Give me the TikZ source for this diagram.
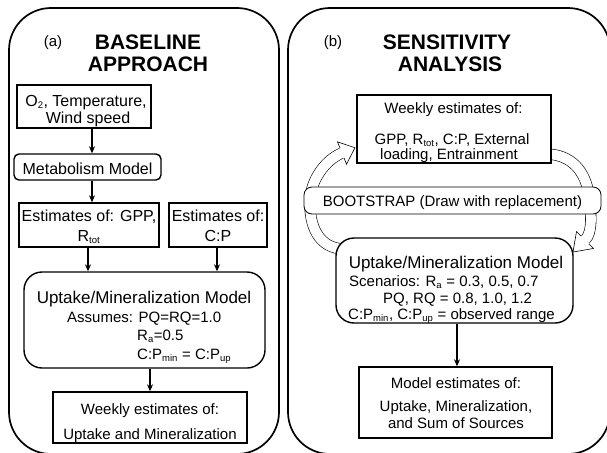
\documentclass[tikz,border=0pt]{standalone}
\usepackage{fontspec}
\setmainfont{Liberation Sans}
\usetikzlibrary{arrows.meta,calc}

\newcommand\fsz[1]{\fontsize{#1}{#1}\selectfont}
% small lowered index, as in R_tot or C:P_min
\newcommand\ix[1]{\textsubscript{\fsz{9.5}#1}}

\tikzset{
  panel/.style={draw, line width=1.7pt, rounded corners=42pt},
  sq/.style={draw, line width=1.4pt, fill=white, inner sep=0pt},
  rbox/.style={sq, rounded corners=#1},
  arr/.style={line width=1.3pt, -{Stealth[length=7pt,width=6pt]}},
  shaft/.style={draw=black, line width=0.6pt, double=white, double distance=10pt},
  txt/.style={inner sep=0pt, anchor=base, font=\fsz{15}},
  txtl/.style={txt, anchor=base west},
  big/.style={txt, font=\fsz{16}},
  mid/.style={txt, font=\fsz{17}},
  ttl/.style={inner sep=0pt, anchor=base, font=\fsz{21}\bfseries},
}

% open-backed block arrow head, placed at the end of a shaft
\newcommand\blockhead[3]{%
  \begin{scope}[shift={(#1)}, rotate=#2]
    \fill[white] (-0.5,5.3) -- (0,12) -- (#3,0) -- (0,-12) -- (-0.5,-5.3) -- cycle;
    \draw[line width=0.6pt] (0,5.3) -- (0,12) -- (#3,0) -- (0,-12) -- (0,-5.3);
  \end{scope}}

\begin{document}
\begin{tikzpicture}[x=1pt, y=-1pt]
\useasboundingbox (0,0) rectangle (607,452);

% outer panels
\begin{scope}
  \clip (0,0) rectangle (607,452);
  \draw[panel] (9,8) rectangle (279,454);
  \draw[panel] (288,8) rectangle (610,454);
\end{scope}

% ---------- (a) baseline approach ----------
\node[txt] (labA) at (53,46) {(a)};
\node[ttl] (ttlA1) at (148,50) {BASELINE};
\node[ttl] (ttlA2) at (148,71.5) {APPROACH};

\node[sq, minimum width=134, minimum height=43] (o2) at (84,106.5) {};
\node[big] (o2a) at (86,106) {O\ix{2}, Temperature,};
\node[big] (o2b) at (88,123) {Wind speed};

\node[rbox=5pt, minimum width=147, minimum height=26] (metab) at (87.5,167) {};
\node[big] (metabt) at (87.5,174) {Metabolism Model};

\node[sq, minimum width=140, minimum height=44] (gpp) at (89,225) {};
\node[big] (gppa) at (89,221) {Estimates of: GPP,};
\node[big] (gppb) at (89,241) {R\ix{tot}};

\node[sq, minimum width=98, minimum height=44] (cp) at (218,225) {};
\node[big] (cpa) at (218,221) {Estimates of:};
\node[big] (cpb) at (218,241) {C:P};

\node[rbox=18pt, minimum width=241, minimum height=96] (uptA) at (144.5,320) {};
\node[mid] (uptAt) at (144,303) {Uptake/Mineralization Model};
\node[txtl] (uptAa) at (67,322) {Assumes: PQ=RQ=1.0};
\node[txtl] (uptAb) at (137,340.5) {R\ix{a}=0.5};
\node[txtl] (uptAc) at (137,359) {C:P\ix{min} = C:P\ix{up}};

\node[sq, minimum width=194, minimum height=51] (weekA) at (150,417.5) {};
\node[txt] (weekAa) at (150,414) {Weekly estimates of:};
\node[txt] (weekAb) at (150,439) {Uptake and Mineralization};

\coordinate (xa) at (92,0);
\coordinate (xb) at (88,0);
\coordinate (xc) at (217,0);
\coordinate (xd) at (150,0);
\draw[arr] (o2.south -| xa) -- (metab.north -| xa);
\draw[arr] (metab.south -| xa) -- (gpp.north -| xa);
\draw[arr] (gpp.south -| xb) -- (uptA.north -| xb);
\draw[arr] (cp.south -| xc) -- (uptA.north -| xc);
\draw[arr] (uptA.south -| xd) -- (weekA.north -| xd);

% ---------- (b) sensitivity analysis ----------
\node[txt] (labB) at (333,46) {(b)};
\node[ttl] (ttlB1) at (447,49.5) {SENSITIVITY};
\node[ttl] (ttlB2) at (450,71) {ANALYSIS};

% circular resampling arrows (drawn first, boxes cover their ends)
\coordinate (lS) at (345,249);
\coordinate (lM) at (310,200);
\coordinate (lE) at (342,153);
\draw[shaft] (lS) .. controls (318,249) and (309,225) .. (lM)
             .. controls (311,180) and (325,160) .. (lE);
\blockhead{lE}{22}{14}

\coordinate (rS) at (545,154);
\coordinate (rM) at (589,196);
\coordinate (rE) at (585,240);
\draw[shaft] (rS) .. controls (572,154) and (586,172) .. (rM)
             .. controls (591,214) and (593,232) .. (rE);
\blockhead{rE}{225}{17}

\node[sq, minimum width=194, minimum height=68] (weekB) at (454,129) {};
\node[txt] (weekBa) at (453.5,113) {Weekly estimates of:};
\node[txt] (weekBb) at (452,144) {GPP, R\ix{tot}, C:P, External};
\node[txt] (weekBc) at (449,159) {loading, Entrainment};

\node[rbox=8pt, line width=0.8pt, minimum width=297, minimum height=27] (boot) at (452.5,200.5) {};
\node[txt] (boott) at (452.5,206) {BOOTSTRAP (Draw with replacement)};

\node[rbox=18pt, minimum width=237, minimum height=85] (uptB) at (454.5,280.5) {};
\node[mid] (uptBt) at (456,268) {Uptake/Mineralization Model};
\node[txtl] (uptBa) at (349,286) {Scenarios: R\ix{a} = 0.3, 0.5, 0.7};
\node[txtl] (uptBb) at (383,303) {PQ, RQ = 0.8, 1.0, 1.2};
\node[txtl] (uptBc) at (348,319) {C:P\ix{min}, C:P\ix{up} = observed range};

\node[sq, minimum width=193, minimum height=71] (modelB) at (455.5,402.5) {};
\node[txt] (modelBa) at (456,388) {Model estimates of:};
\node[txt] (modelBb) at (456,411.5) {Uptake, Mineralization,};
\node[txt] (modelBc) at (456,428) {and Sum of Sources};

\coordinate (xe) at (457,0);
\draw[arr] (uptB.south -| xe) -- (modelB.north -| xe);
\end{tikzpicture}
\end{document}
